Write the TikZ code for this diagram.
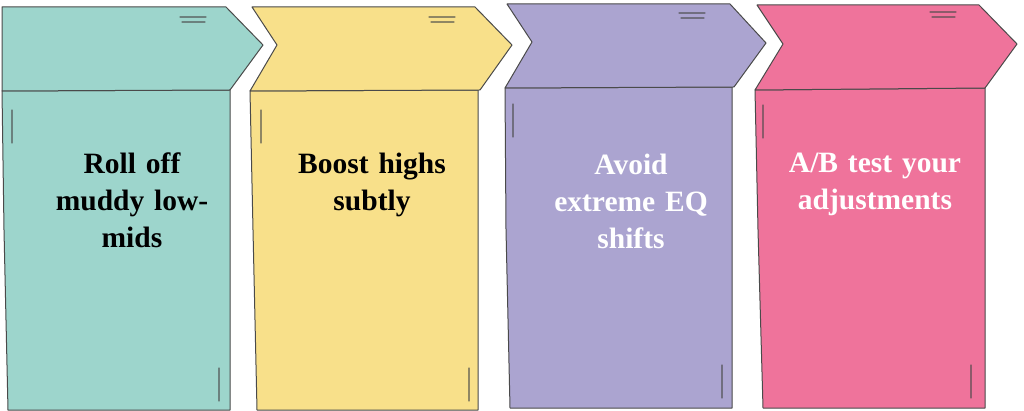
\documentclass[tikz,border=0pt]{standalone}
\usepackage{fontspec}
\setmainfont{Liberation Serif}
\usepackage{tikz}
\definecolor{eqteal}{HTML}{9DD5CC}
\definecolor{eqyellow}{HTML}{F8E08A}
\definecolor{eqpurple}{HTML}{ABA4D0}
\definecolor{eqpink}{HTML}{EF739B}
\definecolor{eqline}{HTML}{4A4A4A}
\tikzset{
  panel/.style={draw=eqline, line width=1pt, line join=round},
  sketch/.style={draw=eqline, line width=1.2pt, opacity=0.6, line cap=round},
  steptext/.style={anchor=north, inner sep=0pt, text width=200pt, align=center,
    font=\fontsize{29.5}{37}\selectfont\bfseries}
}

\begin{document}
\begin{tikzpicture}[x=1pt, y=-1pt]
\useasboundingbox[fill=white] (0,0) rectangle (1024,411);

\path[panel, fill=eqteal] (2,91) -- (230,90) -- (230,410) -- (8,410) -- (4,230) -- cycle;
\path[panel, fill=eqteal] (2,7) -- (226,7) -- (263,45) -- (230,90) -- (2,91) -- cycle;
\draw[sketch] (180,17) -- (206,17) (182,22) -- (205,22) (12,110) -- (12,143) (219,368) -- (219,401);

\path[panel, fill=eqyellow] (250,91) -- (478,90) -- (478,410) -- (257,410) -- (253,230) -- cycle;
\path[panel, fill=eqyellow] (252,7) -- (475,7) -- (512,45) -- (480,90) -- (250,91) -- (277,45) -- cycle;
\draw[sketch] (429,17) -- (455,17) (431,22) -- (454,22) (261,110) -- (261,143) (469,368) -- (469,401);

\path[panel, fill=eqpurple] (505,88) -- (732,87) -- (732,408) -- (510,408) -- (506,230) -- cycle;
\path[panel, fill=eqpurple] (507,4) -- (730,4) -- (766,43) -- (734,87) -- (505,88) -- (532,42) -- cycle;
\draw[sketch] (679,13) -- (705,13) (681,18) -- (704,18) (513,104) -- (513,137) (722,365) -- (722,398);

\path[panel, fill=eqpink] (755,90) -- (985,88) -- (985,408) -- (763,408) -- (758,230) -- cycle;
\path[panel, fill=eqpink] (757,5) -- (979,5) -- (1017,44) -- (985,88) -- (755,90) -- (783,44) -- cycle;
\draw[sketch] (930,12) -- (956,12) (932,17) -- (955,17) (763,105) -- (763,138) (971,365) -- (971,398);

\node[steptext, text=black] (rolloff) at (132,153) {Roll off\\muddy low-\\mids};
\node[steptext, text=black] (boost) at (372,153) {Boost highs\\subtly};
\node[steptext, text=white] (avoid) at (631,154) {Avoid\\extreme EQ\\shifts};
\node[steptext, text=white] (abtest) at (875,153) {A/B test your\\adjustments};
\end{tikzpicture}
\end{document}
